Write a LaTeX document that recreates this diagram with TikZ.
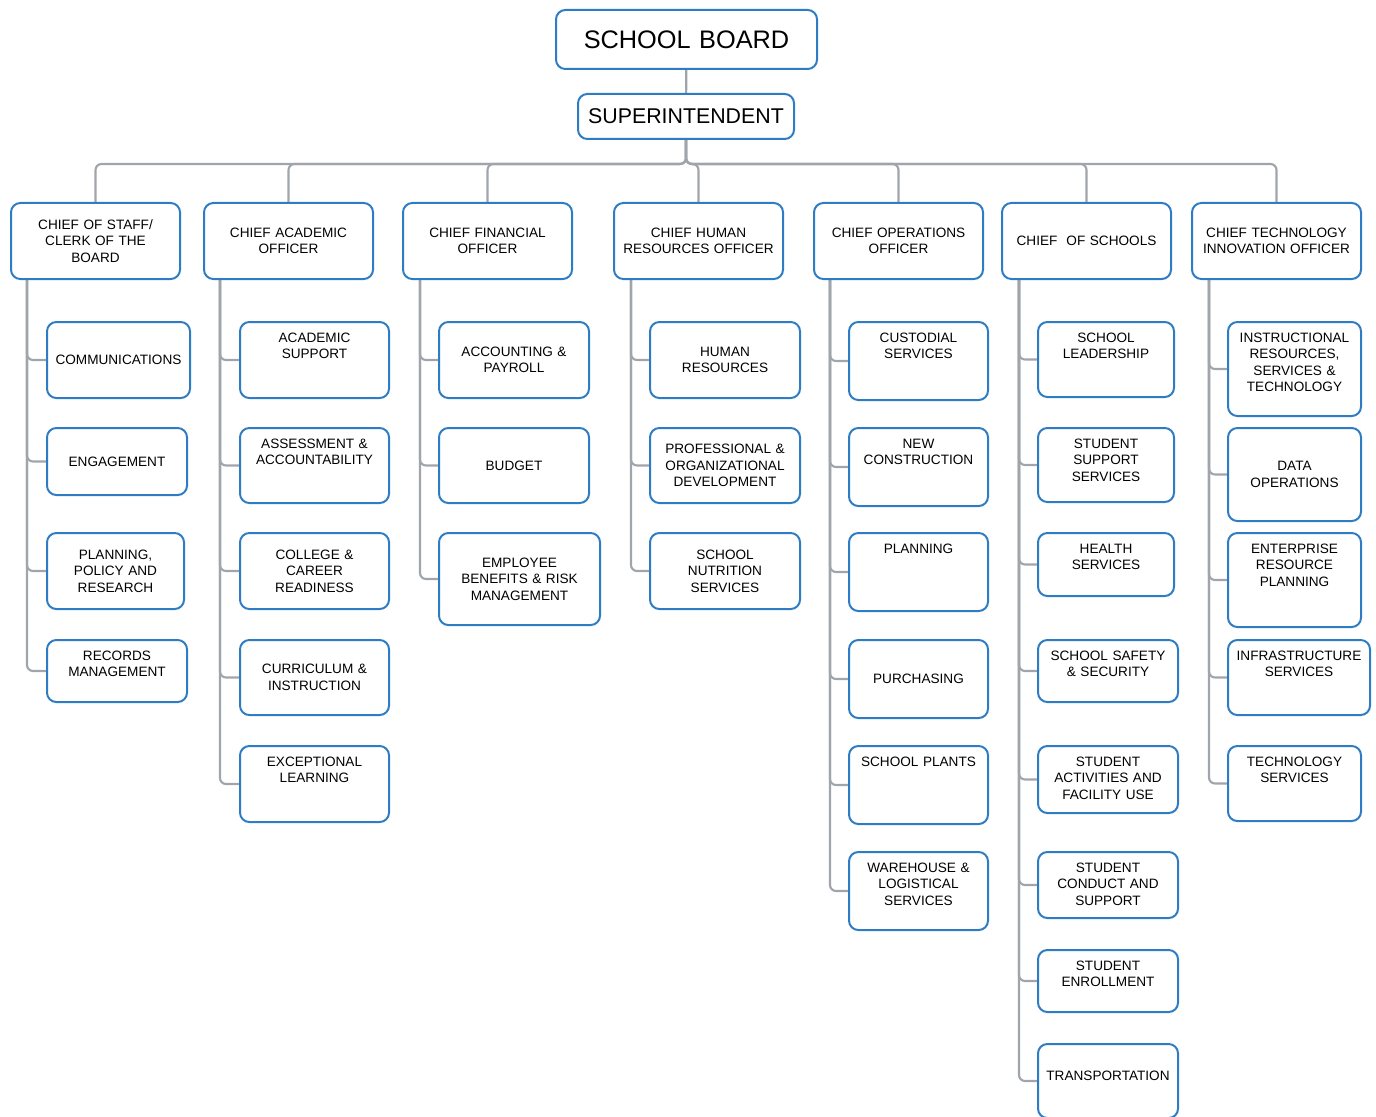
\documentclass[tikz,border=0pt]{standalone}
\usepackage{fontspec}
\setmainfont{Liberation Sans}
\usetikzlibrary{backgrounds}
\definecolor{boxblue}{RGB}{46,125,196}
\definecolor{linegray}{RGB}{160,165,172}
\newlength\px
\setlength\px{0.75pt}

\begin{document}
\begin{tikzpicture}[x=0.75pt,y=0.75pt,yscale=-1,xscale=1,
	box/.style={draw=boxblue, line width=1.5pt, rounded corners=7pt, fill=white, anchor=north west, align=center, inner xsep=0pt, inner ysep=0pt, font=\fontsize{10.2}{12.4}\selectfont},
	wh/.style 2 args={text width=#1\px, minimum height=#2\px},
	toptxt/.style={text height=20\px, text depth=#1\px},
	conn/.style={draw=linegray, line width=1.6pt, rounded corners=4.5pt}]
	\useasboundingbox (0,0) rectangle (1376,1116);
	
	% Board and superintendent
	\node[box, wh={261}{59}, font=\fontsize{19}{23}\selectfont] (board) at (555,9) {SCHOOL BOARD};
	\node[box, wh={216}{45}, font=\fontsize{16}{19}\selectfont] (sup) at (577,93) {SUPERINTENDENT};
	
	% Chiefs
	\node[box, wh={169}{76}] (cos) at (10,202) {CHIEF OF STAFF/\\CLERK OF THE\\BOARD};
	\node[box, wh={169}{76}] (cao) at (203,202) {CHIEF ACADEMIC\\OFFICER};
	\node[box, wh={169}{76}] (cfo) at (402,202) {CHIEF FINANCIAL\\OFFICER};
	\node[box, wh={169}{76}] (chro) at (613,202) {CHIEF HUMAN\\RESOURCES OFFICER};
	\node[box, wh={169}{76}] (coo) at (813,202) {CHIEF OPERATIONS\\OFFICER};
	\node[box, wh={169}{76}] (chs) at (1001,202) {CHIEF~\ OF SCHOOLS};
	\node[box, wh={169}{76}] (cto) at (1191,202) {CHIEF TECHNOLOGY\\INNOVATION OFFICER};
	
	% Chief of staff
	\node[box, wh={143}{76}] (comm) at (46,321) {COMMUNICATIONS};
	\node[box, wh={140}{67}] (eng) at (46,427) {ENGAGEMENT};
	\node[box, wh={137}{76}] (ppr) at (46,532) {PLANNING,\\POLICY AND\\RESEARCH};
	\node[box, wh={140}{62}, toptxt=42] (rec) at (46,639) {RECORDS\\MANAGEMENT};
	
	% Academic
	\node[box, wh={149}{76}, toptxt=56] (acs) at (239,321) {ACADEMIC\\SUPPORT};
	\node[box, wh={149}{75}, toptxt=55] (aa) at (239,427) {ASSESSMENT \&\\ACCOUNTABILITY};
	\node[box, wh={149}{76}] (ccr) at (239,532) {COLLEGE \&\\CAREER\\READINESS};
	\node[box, wh={149}{75}] (ci) at (239,639) {CURRICULUM \&\\INSTRUCTION};
	\node[box, wh={149}{76}, toptxt=56] (el) at (239,745) {EXCEPTIONAL\\LEARNING};
	
	% Financial
	\node[box, wh={150}{76}] (acp) at (438,321) {ACCOUNTING \&\\PAYROLL};
	\node[box, wh={150}{75}] (bud) at (438,427) {BUDGET};
	\node[box, wh={161}{92}] (ebr) at (438,532) {EMPLOYEE\\BENEFITS \& RISK\\MANAGEMENT};
	
	% Human resources
	\node[box, wh={150}{76}] (hr) at (649,321) {HUMAN\\RESOURCES};
	\node[box, wh={150}{75}] (pod) at (649,427) {PROFESSIONAL \&\\ORGANIZATIONAL\\DEVELOPMENT};
	\node[box, wh={150}{76}] (sns) at (649,532) {SCHOOL\\NUTRITION\\SERVICES};
	
	% Operations
	\node[box, wh={139}{78}, toptxt=58] (cus) at (848,321) {CUSTODIAL\\SERVICES};
	\node[box, wh={139}{78}, toptxt=58] (nc) at (848,427) {NEW\\CONSTRUCTION};
	\node[box, wh={139}{78}, toptxt=58] (pln) at (848,532) {PLANNING};
	\node[box, wh={139}{78}] (pur) at (848,639) {PURCHASING};
	\node[box, wh={139}{78}, toptxt=58] (spl) at (848,745) {SCHOOL PLANTS};
	\node[box, wh={139}{78}, toptxt=58] (wls) at (848,851) {WAREHOUSE \&\\LOGISTICAL\\SERVICES};
	
	% Schools
	\node[box, wh={136}{75}, toptxt=55] (sl) at (1037,321) {SCHOOL\\LEADERSHIP};
	\node[box, wh={136}{74}, toptxt=54] (sss) at (1037,427) {STUDENT\\SUPPORT\\SERVICES};
	\node[box, wh={136}{63}, toptxt=43] (hs) at (1037,532) {HEALTH\\SERVICES};
	\node[box, wh={140}{62}, toptxt=42] (ssec) at (1037,639) {SCHOOL SAFETY\\\& SECURITY};
	\node[box, wh={140}{67}, toptxt=47] (saf) at (1037,745) {STUDENT\\ACTIVITIES AND\\FACILITY USE};
	\node[box, wh={140}{66}, toptxt=46] (scs) at (1037,851) {STUDENT\\CONDUCT AND\\SUPPORT};
	\node[box, wh={140}{62}, toptxt=42] (se) at (1037,949) {STUDENT\\ENROLLMENT};
	\node[box, wh={140}{74}, text height=36\px, text depth=38\px] (tr) at (1037,1043) {TRANSPORTATION};
	
	% Technology
	\node[box, wh={133}{94}, toptxt=74] (irs) at (1227,321) {INSTRUCTIONAL\\RESOURCES,\\SERVICES \&\\TECHNOLOGY};
	\node[box, wh={133}{93}] (dop) at (1227,427) {DATA\\OPERATIONS};
	\node[box, wh={133}{94}, toptxt=74] (erp) at (1227,532) {ENTERPRISE\\RESOURCE\\PLANNING};
	\node[box, wh={142}{75}, toptxt=55] (inf) at (1227,639) {INFRASTRUCTURE\\SERVICES};
	\node[box, wh={133}{75}, toptxt=55] (ts) at (1227,745) {TECHNOLOGY\\SERVICES};
	
	\begin{scope}[on background layer]
		% top links
		\draw[conn] (board) -- (sup);
		\foreach \c in {cos,cao,cfo,chro,coo,chs,cto}
			\draw[conn] (sup.south) -- ++(0,24) -| (\c.north);
		
		% column links
		\foreach \c in {comm,eng,ppr,rec}
			\draw[conn] ([xshift=17\px]cos.south west) |- (\c.west);
		\foreach \c in {acs,aa,ccr,ci,el}
			\draw[conn] ([xshift=17\px]cao.south west) |- (\c.west);
		\foreach \c in {acp,bud,ebr}
			\draw[conn] ([xshift=18\px]cfo.south west) |- (\c.west);
		\foreach \c in {hr,pod,sns}
			\draw[conn] ([xshift=18\px]chro.south west) |- (\c.west);
		\foreach \c in {cus,nc,pln,pur,spl,wls}
			\draw[conn] ([xshift=17\px]coo.south west) |- (\c.west);
		\foreach \c in {sl,sss,hs,ssec,saf,scs,se,tr}
			\draw[conn] ([xshift=18\px]chs.south west) |- (\c.west);
		\foreach \c in {irs,dop,erp,inf,ts}
			\draw[conn] ([xshift=18\px]cto.south west) |- (\c.west);
	\end{scope}
\end{tikzpicture}
\end{document}
